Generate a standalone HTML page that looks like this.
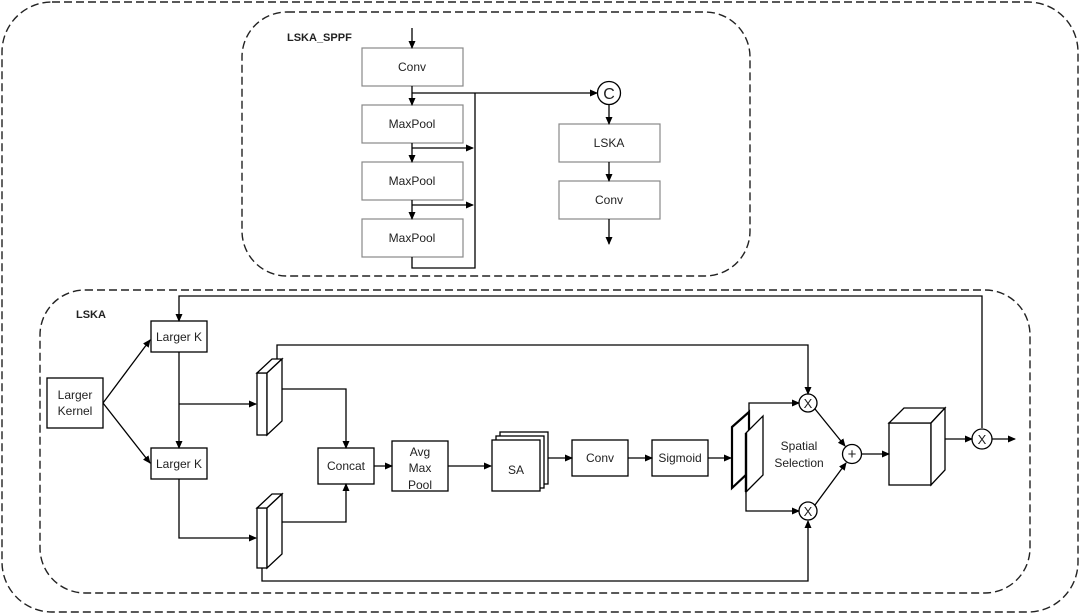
<!DOCTYPE html>
<html><head><meta charset="utf-8"><style>
html,body{margin:0;padding:0;background:#fff;}
svg{display:block;}
text{font-family:"Liberation Sans",sans-serif;font-size:12px;fill:#222;}
</style></head><body>
<svg width="1080" height="615" viewBox="0 0 1080 615" xmlns="http://www.w3.org/2000/svg">
<defs>
<marker id="a" markerWidth="8" markerHeight="8" refX="7" refY="4" orient="auto" markerUnits="userSpaceOnUse">
<path d="M0,0.5 L8,4 L0,7.5 z" fill="#000"/></marker>
</defs>
<g fill="none" stroke="#222" stroke-width="1.4" stroke-dasharray="8,4">
<rect x="2" y="2" width="1076" height="610" rx="50"/>
<rect x="242" y="12" width="508" height="264" rx="45"/>
<rect x="40" y="290" width="990" height="303" rx="45"/>
</g>
<text x="287" y="41" style="font-weight:bold;font-size:11px">LSKA_SPPF</text>
<text x="76" y="318" style="font-weight:bold;font-size:11px">LSKA</text>

<g fill="#fff" stroke="#888" stroke-width="1.2">
<rect x="362" y="48" width="101" height="38"/>
<rect x="362" y="105" width="101" height="38"/>
<rect x="362" y="162" width="101" height="38"/>
<rect x="362" y="219" width="101" height="38"/>
<rect x="559" y="124" width="101" height="38"/>
<rect x="559" y="181" width="101" height="38"/>
</g>
<g text-anchor="middle">
<text x="412" y="71">Conv</text>
<text x="412" y="128">MaxPool</text>
<text x="412" y="185">MaxPool</text>
<text x="412" y="242">MaxPool</text>
<text x="609" y="147">LSKA</text>
<text x="609" y="204">Conv</text>
</g>
<g stroke="#000" stroke-width="1.3" fill="none">
<line x1="412" y1="28" x2="412" y2="48" marker-end="url(#a)"/>
<line x1="412" y1="86" x2="412" y2="105" marker-end="url(#a)"/>
<line x1="412" y1="143" x2="412" y2="162" marker-end="url(#a)"/>
<line x1="412" y1="200" x2="412" y2="219" marker-end="url(#a)"/>
<line x1="412" y1="93" x2="597" y2="93" marker-end="url(#a)"/>
<line x1="412" y1="148" x2="473" y2="148" marker-end="url(#a)"/>
<line x1="412" y1="205" x2="473" y2="205" marker-end="url(#a)"/>
<polyline points="412,257 412,268 475,268 475,93"/>
<circle cx="609" cy="93" r="11.5"/>
<line x1="609" y1="105" x2="609" y2="124" marker-end="url(#a)"/>
<line x1="609" y1="162" x2="609" y2="181" marker-end="url(#a)"/>
<line x1="609" y1="219" x2="609" y2="244" marker-end="url(#a)"/>
</g>
<text x="609" y="99" text-anchor="middle" style="font-size:16px">C</text>

<g fill="#fff" stroke="#000" stroke-width="1.3">
<rect x="47" y="378" width="56" height="50"/>
<rect x="151" y="321" width="56" height="31"/>
<rect x="151" y="448" width="56" height="31"/>
<rect x="318" y="448" width="56" height="36"/>
<rect x="392" y="441" width="56" height="50"/>
<rect x="500" y="432" width="48" height="52"/>
<rect x="496" y="436" width="48" height="52"/>
<rect x="492" y="440" width="48" height="51"/>
<rect x="572" y="440" width="56" height="36"/>
<rect x="652" y="440" width="56" height="36"/>
</g>
<g text-anchor="middle">
<text x="75" y="399">Larger</text>
<text x="75" y="415">Kernel</text>
<text x="179" y="341">Larger K</text>
<text x="179" y="468">Larger K</text>
<text x="346" y="470">Concat</text>
<text x="420" y="456">Avg</text>
<text x="420" y="472">Max</text>
<text x="420" y="489">Pool</text>
<text x="516" y="474">SA</text>
<text x="600" y="462">Conv</text>
<text x="680" y="462">Sigmoid</text>
<text x="799" y="450">Spatial</text>
<text x="799" y="467">Selection</text>
</g>
<g fill="#fff" stroke="#000" stroke-width="1.3">
<rect x="257" y="373" width="10" height="62"/>
<polygon points="257,373 272,359 282,359 267,373"/>
<polygon points="267,373 282,359 282,421 267,435"/>
<rect x="257" y="508" width="10" height="60"/>
<polygon points="257,508 272,494 282,494 267,508"/>
<polygon points="267,508 282,494 282,554 267,568"/>
<polygon points="732,427 749,412 749,472 732,488" stroke-width="2.2"/>
<polygon points="746,433 763,416 763,475 746,492" stroke-width="1.3"/>
<line x1="746" y1="433" x2="746" y2="492" stroke-width="2.4"/>
<rect x="889" y="423" width="42" height="62"/>
<polygon points="889,423 904,408 945,408 931,423"/>
<polygon points="931,423 945,408 945,470 931,485"/>
</g>
<g stroke="#000" stroke-width="1.3" fill="none">
<line x1="103" y1="403" x2="150" y2="340" marker-end="url(#a)"/>
<line x1="103" y1="403" x2="150" y2="463" marker-end="url(#a)"/>
<polyline points="982,428 982,296 179,296 179,321" marker-end="url(#a)"/>
<line x1="179" y1="352" x2="179" y2="448" marker-end="url(#a)"/>
<line x1="179" y1="404" x2="256" y2="404" marker-end="url(#a)"/>
<polyline points="179,479 179,538 256,538" marker-end="url(#a)"/>
<polyline points="282,389 346,389 346,448" marker-end="url(#a)"/>
<polyline points="282,522 346,522 346,484" marker-end="url(#a)"/>
<polyline points="277,359 277,345 808,345 808,394" marker-end="url(#a)"/>
<polyline points="262,568 262,581 808,581 808,521" marker-end="url(#a)"/>
<line x1="374" y1="466" x2="392" y2="466" marker-end="url(#a)"/>
<line x1="448" y1="466" x2="491" y2="466" marker-end="url(#a)"/>
<line x1="548" y1="458" x2="572" y2="458" marker-end="url(#a)"/>
<line x1="628" y1="458" x2="652" y2="458" marker-end="url(#a)"/>
<line x1="708" y1="458" x2="731" y2="458" marker-end="url(#a)"/>
<polyline points="749,412 749,403 799,403" marker-end="url(#a)"/>
<polyline points="746,492 746,511 799,511" marker-end="url(#a)"/>
<circle cx="808" cy="403" r="9"/>
<circle cx="808" cy="511" r="9"/>
<circle cx="852" cy="454" r="9.5"/>
<line x1="815" y1="409" x2="845" y2="446" marker-end="url(#a)"/>
<line x1="815" y1="505" x2="846" y2="463" marker-end="url(#a)"/>
<line x1="862" y1="454" x2="889" y2="454" marker-end="url(#a)"/>
<line x1="945" y1="439" x2="972" y2="439" marker-end="url(#a)"/>
<circle cx="982" cy="439" r="10"/>
<line x1="992" y1="439" x2="1015" y2="439" marker-end="url(#a)"/>
</g>
<g text-anchor="middle">
<text x="808" y="408" style="font-size:13px">X</text>
<text x="808" y="516" style="font-size:13px">X</text>
<text x="852" y="459" style="font-size:15px">+</text>
<text x="982" y="444" style="font-size:13px">X</text>
</g>
</svg>
</body></html>
